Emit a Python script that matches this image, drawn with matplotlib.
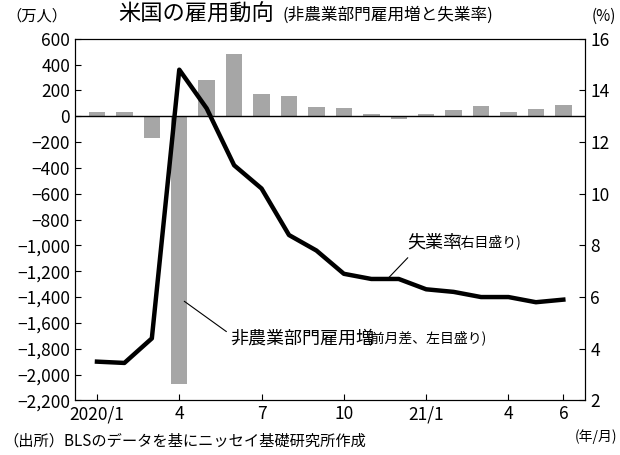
import numpy as np
import matplotlib.pyplot as plt

plt.rcParams['font.family'] = ['Noto Sans CJK JP', 'DejaVu Sans']

months = list(range(18))
payrolls = [30, 30, -170, -2070, 280, 480, 175, 160, 70, 65, 20, -20, 20, 50, 80, 30, 55, 85]
unemp = [3.5, 3.45, 4.4, 14.8, 13.3, 11.1, 10.2, 8.4, 7.8, 6.9, 6.7, 6.7, 6.3, 6.2, 6.0, 6.0, 5.8, 5.9]
tick_pos = [0, 3, 6, 9, 12, 15, 17]
tick_lab = ['2020/1', '4', '7', '10', '21/1', '4', '6']

fig = plt.figure(figsize=(6.2, 4.55), dpi=100)
ax = fig.add_axes([0.121, 0.12, 0.823, 0.795])
ax.bar(months, payrolls, width=0.6, color='#a6a6a6', zorder=2)
ax.axhline(0, color='black', lw=1, zorder=3)
ax.set_ylim(-2200, 600)
ax.set_yticks(range(-2200, 601, 200))
ax.set_yticklabels([f'{v:,}'.replace('-', '−') for v in range(-2200, 601, 200)])
ax.set_xlim(-0.8, 17.8)
ax.set_xticks(tick_pos)
ax.set_xticklabels(tick_lab)
ax.tick_params(direction='in', labelsize=12.5, length=4)

ax2 = ax.twinx()
ax2.plot(months, unemp, color='black', lw=3.2, zorder=4)
ax2.set_ylim(2, 16)
ax2.set_yticks(range(2, 17, 2))
ax2.tick_params(direction='in', labelsize=12.5, length=4)

fig.text(0.01, 0.955, '（万人）', fontsize=11)
fig.text(0.955, 0.955, '(%)', fontsize=11)
fig.text(0.19, 0.955, '米国の雇用動向', fontsize=16)
fig.text(0.455, 0.957, '(非農業部門雇用増と失業率)', fontsize=12)
fig.text(0.005, 0.02, '（出所）BLSのデータを基にニッセイ基礎研究所作成', fontsize=11)
fig.text(0.995, 0.03, '(年/月)', fontsize=10, ha='right')

ax2.annotate('', xy=(10.5, 6.6), xytext=(11.4, 7.6), arrowprops=dict(arrowstyle='-', lw=0.8))
ax2.text(11.3, 7.9, '失業率', fontsize=13)
ax2.text(13.1, 7.95, '(右目盛り)', fontsize=10)
ax.annotate('', xy=(3.1, -1420), xytext=(4.8, -1680), arrowprops=dict(arrowstyle='-', lw=0.8))
ax.text(4.85, -1760, '非農業部門雇用増', fontsize=13)
ax.text(9.85, -1750, '(前月差、左目盛り)', fontsize=10)

fig.savefig('out.png', dpi=100)
